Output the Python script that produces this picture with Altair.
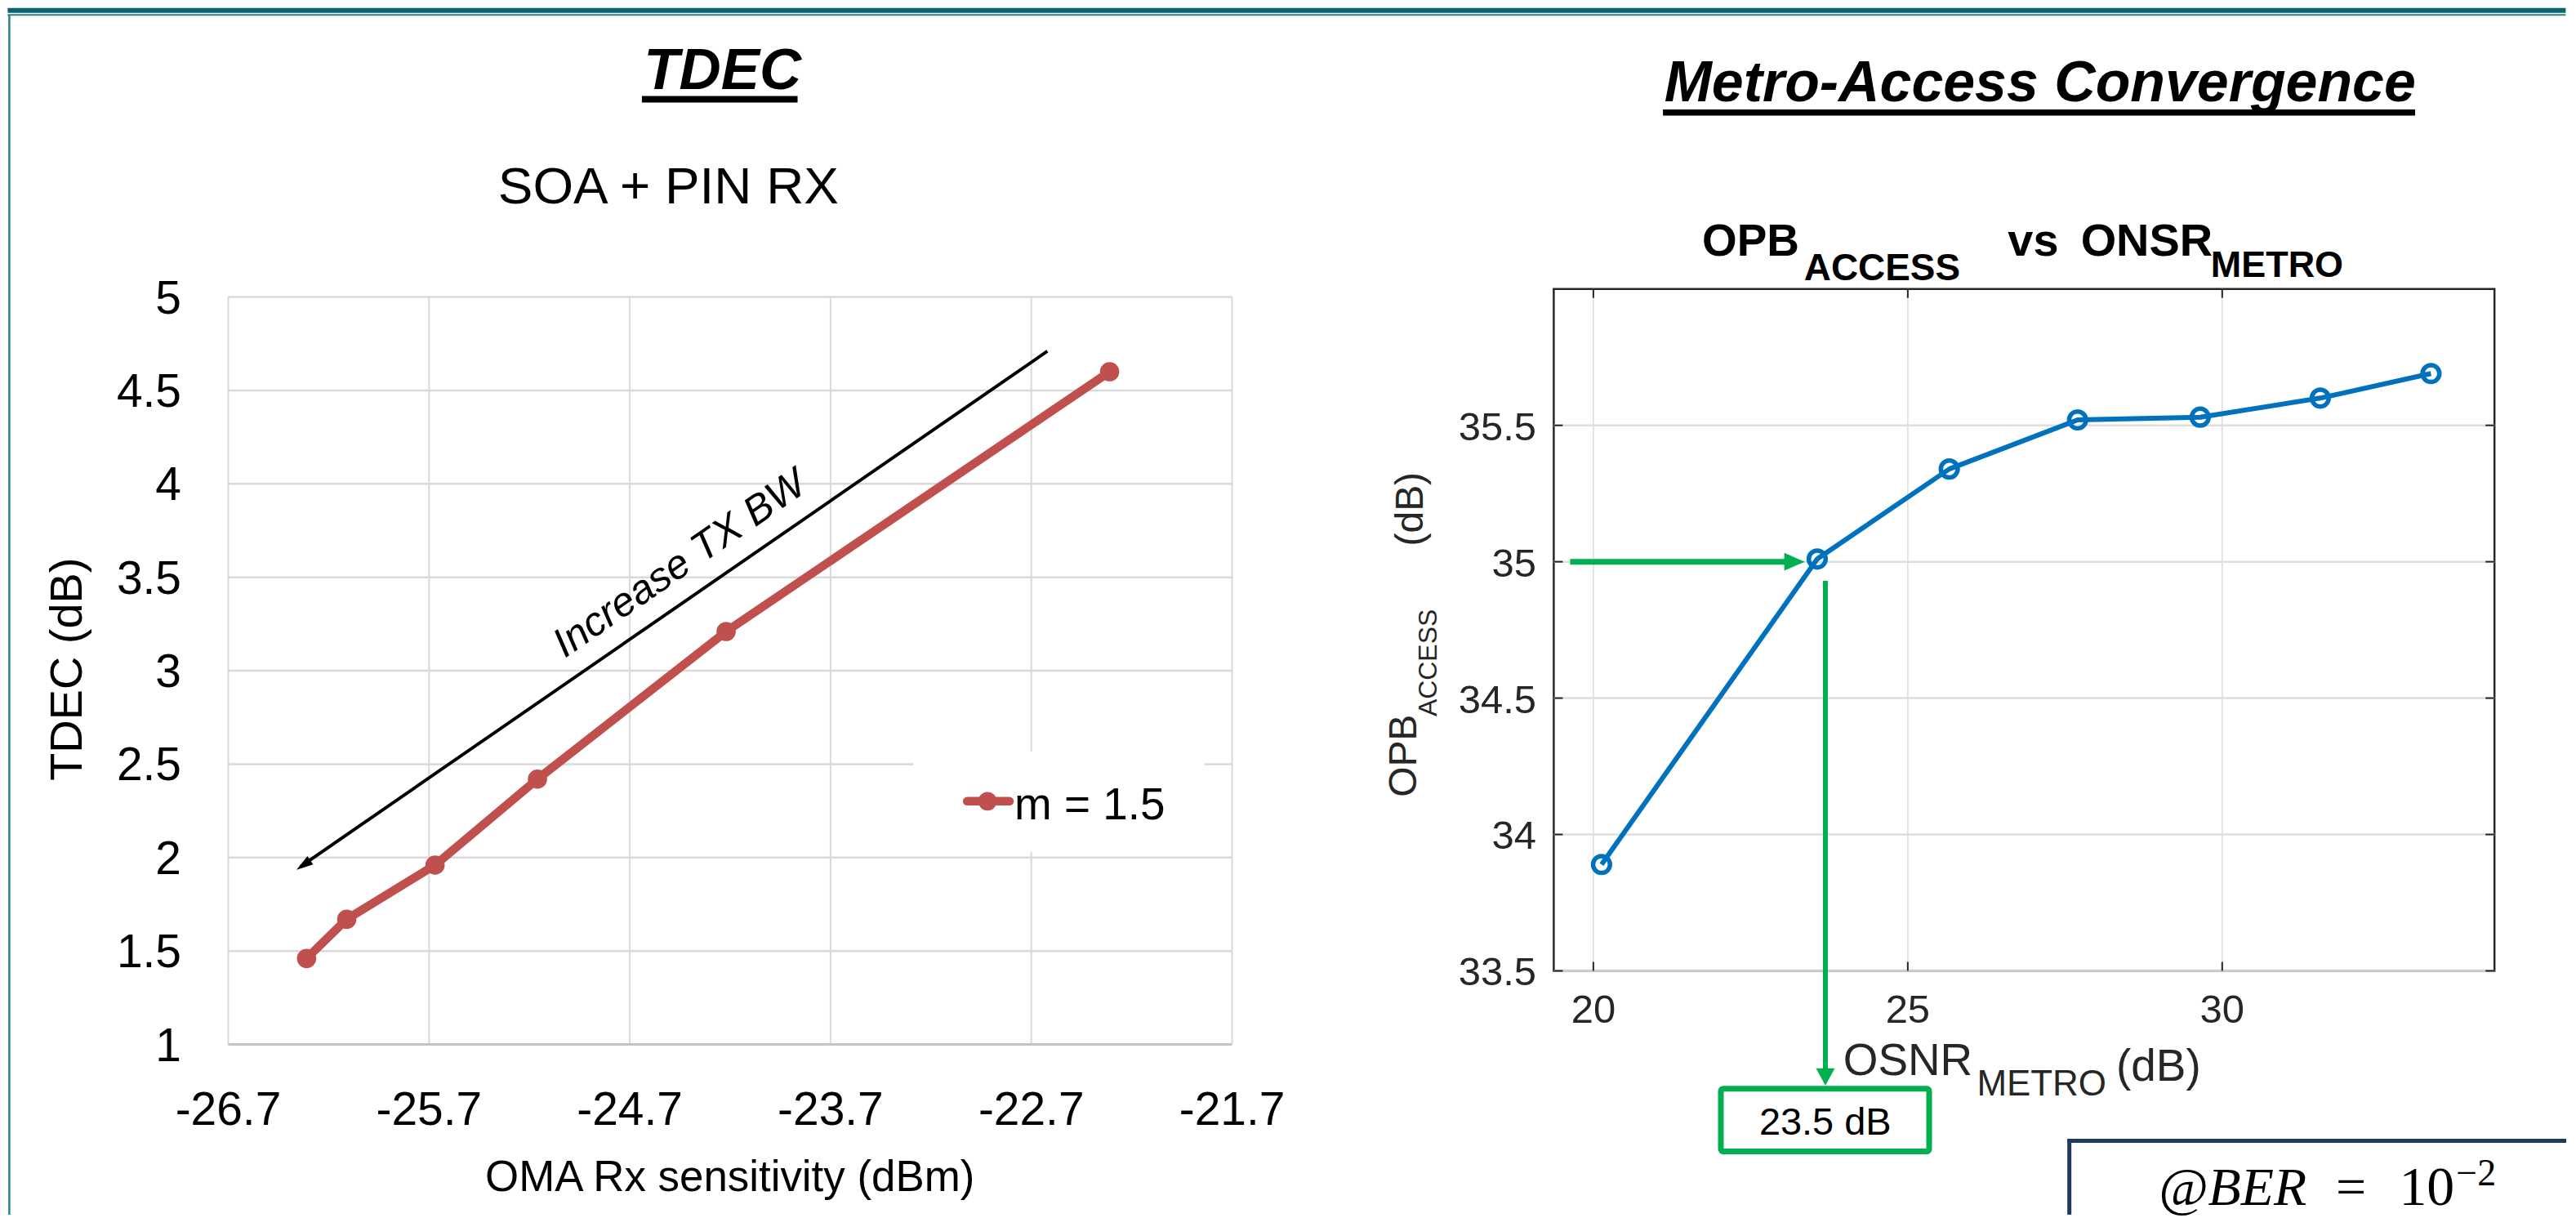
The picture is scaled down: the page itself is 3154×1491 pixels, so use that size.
import altair as alt
import pandas as pd

# ---------------- data: left panel (TDEC vs OMA Rx sensitivity) ----------------
OMA_RX_SENS = [-26.31, -26.11, -25.67, -25.16, -24.22, -22.31]
TDEC_DB = [1.46, 1.67, 1.96, 2.42, 3.21, 4.60]
LEGEND_LABEL = ["m = 1.5"]
LEFT_X_TICKS = [-26.7, -25.7, -24.7, -23.7, -22.7, -21.7]
LEFT_X_LABELS = ["-26.7", "-25.7", "-24.7", "-23.7", "-22.7", "-21.7"]
LEFT_Y_TICKS = [1, 1.5, 2, 2.5, 3, 3.5, 4, 4.5, 5]
LEFT_Y_LABELS = ["1", "1.5", "2", "2.5", "3", "3.5", "4", "4.5", "5"]
LEFT_X_DOMAIN = [-26.7, -21.7]
LEFT_Y_DOMAIN = [1, 5.0428]
TREND_X = [-22.62, -26.34]
TREND_Y = [4.71, 1.952]
TREND_TIP = [-26.36, 1.935]
TREND_LABEL = ["Increase TX BW"]
TREND_LABEL_AT = [-24.45, 3.57]

# ---------------- data: right panel (OPB_ACCESS vs OSNR_METRO) ----------------
OSNR_METRO = [20.13, 23.56, 25.66, 27.70, 29.65, 31.56, 33.32]
OPB_ACCESS = [33.89, 35.01, 35.34, 35.52, 35.53, 35.60, 35.69]
RIGHT_X_TICKS = [20, 25, 30]
RIGHT_X_LABELS = ["20", "25", "30"]
RIGHT_Y_TICKS = [33.5, 34, 34.5, 35, 35.5]
RIGHT_Y_LABELS = ["33.5", "34", "34.5", "35", "35.5"]
RIGHT_X_DOMAIN = [19.37, 34.33]
RIGHT_Y_DOMAIN = [33.5, 36.0]
H_ARROW_X = [19.63, 23.22]
H_ARROW_TIP = [23.36, 35.0]
V_ARROW_X = 23.69
V_ARROW_Y = [34.93, 33.11]
V_ARROW_TIP = [23.69, 33.08]
READ_LABEL = ["23.5 dB"]

# ---------------- texts ----------------
TITLE_LEFT = "TDEC"
SUBTITLE_LEFT = "SOA + PIN RX"
TITLE_RIGHT = "Metro-Access Convergence"
LEFT_X_TITLE = "OMA Rx sensitivity (dBm)"
LEFT_Y_TITLE = "TDEC (dB)"
PLOT_TITLE = ["OPB", "ACCESS", "vs", "ONSR", "METRO"]
R_X_TITLE = ["OSNR", "METRO", "(dB)"]
R_Y_TITLE = ["OPB", "ACCESS", "(dB)"]
BER_TEXT = ["@BER", "=", "10", "\u22122"]

# ---------------- styling ----------------
SANS = "Liberation Sans, Arial, Helvetica, sans-serif"
SERIF = "Liberation Serif, Cambria, Times New Roman, serif"
RED = "#C0504D"
BLUE = "#0072BD"
GREEN = "#00B050"
DARK = "#262626"
TEAL = "#0B6470"
TEAL2 = "#2A7F88"
NAVY = "#1F3A5F"
GRID_L = "#d9d9d9"
GRID_R = "#dedede"

LW, LH = 1231.4, 926.6
RW, RH = 1154.0, 836.3
LOX, LOY = 278.6, 352.7
ROX, ROY = 1904.0, 352.7

ONE = pd.DataFrame({"k": [0]})


def tx(text, x, y, ox, oy, size, font=SANS, color="#000000", weight="normal",
       style="normal", align="left", baseline="alphabetic", angle=0):
    props = dict(font=font, fontSize=size, color=color, fontWeight=weight,
                 fontStyle=style, align=align, baseline=baseline)
    if angle:
        props["angle"] = angle
    return alt.Chart(pd.DataFrame({"t": [text]})).mark_text(**props).encode(
        text="t:N", x=alt.value(x - ox), y=alt.value(y - oy))


def hrule(x1, x2, y, ox, oy, color, width):
    return alt.Chart(ONE).mark_rule(color=color, strokeWidth=width).encode(
        x=alt.value(x1 - ox), x2=alt.value(x2 - ox), y=alt.value(y - oy))


def vrule(x, y1, y2, ox, oy, color, width):
    return alt.Chart(ONE).mark_rule(color=color, strokeWidth=width).encode(
        x=alt.value(x - ox), y=alt.value(y1 - oy), y2=alt.value(y2 - oy))


def prect(x1, y1, x2, y2, ox, oy, fill, stroke="#ffffff", sw=0, radius=0):
    return alt.Chart(ONE).mark_rect(fill=fill, stroke=stroke, strokeWidth=sw,
                                    cornerRadius=radius, opacity=1).encode(
        x=alt.value(x1 - ox), x2=alt.value(x2 - ox),
        y=alt.value(y1 - oy), y2=alt.value(y2 - oy))


# ================= LEFT PANEL =================
xsL = alt.Scale(domain=LEFT_X_DOMAIN, nice=False, zero=False)
ysL = alt.Scale(domain=LEFT_Y_DOMAIN, nice=False, zero=False)


def XL(f):
    return alt.X(f, scale=xsL, axis=None)


def YL(f):
    return alt.Y(f, scale=ysL, axis=None)


dfL = pd.DataFrame({"x": OMA_RX_SENS, "y": TDEC_DB})

grid_v = alt.Chart(pd.DataFrame({"x": LEFT_X_TICKS, "y0": LEFT_Y_TICKS[0], "y1": LEFT_Y_TICKS[-1]})).mark_rule(
    color=GRID_L, strokeWidth=2).encode(x=XL("x:Q"), y=YL("y0:Q"), y2="y1:Q")
grid_h = alt.Chart(pd.DataFrame({"y": LEFT_Y_TICKS[1:], "x0": LEFT_X_TICKS[0], "x1": LEFT_X_TICKS[-1]})).mark_rule(
    color=GRID_L, strokeWidth=2.5).encode(y=YL("y:Q"), x=XL("x0:Q"), x2="x1:Q")
base_line = alt.Chart(pd.DataFrame({"y": LEFT_Y_TICKS[:1], "x0": LEFT_X_TICKS[0], "x1": LEFT_X_TICKS[-1]})).mark_rule(
    color="#c4c4c4", strokeWidth=3).encode(y=YL("y:Q"), x=XL("x0:Q"), x2="x1:Q")

xlab_L = alt.Chart(pd.DataFrame({"x": LEFT_X_TICKS, "t": LEFT_X_LABELS})).mark_text(
    font=SANS, fontSize=57, align="center", baseline="alphabetic", color="#000000").encode(
    x=XL("x:Q"), y=alt.value(1378 - LOY), text="t:N")
ylab_L = alt.Chart(pd.DataFrame({"y": LEFT_Y_TICKS, "t": LEFT_Y_LABELS})).mark_text(
    font=SANS, fontSize=57, align="right", baseline="middle", dy=3, color="#000000").encode(
    y=YL("y:Q"), x=alt.value(221 - LOX), text="t:N")
xtitle_L = tx(LEFT_X_TITLE, 894, 1459, LOX, LOY, 53, align="center")
ytitle_L = tx(LEFT_Y_TITLE, 99, 819, LOX, LOY, 56, align="center", angle=270)

legend_bg = prect(1119, 920, 1476, 1043, LOX, LOY, fill="#ffffff")

trend = alt.Chart(pd.DataFrame({"x": TREND_X, "y": TREND_Y, "o": [0, 1]})).mark_line(
    color="#000000", strokeWidth=4).encode(x=XL("x:Q"), y=YL("y:Q"), order="o:Q")
trend_head = alt.Chart(pd.DataFrame({"x": [TREND_TIP[0]], "y": [TREND_TIP[1]]})).mark_point(
    shape="M0,0L0.6,2L-0.6,2Z", size=420, filled=True, color="#000000", opacity=1,
    angle=235.4, strokeWidth=0).encode(x=XL("x:Q"), y=YL("y:Q"))
trend_text = alt.Chart(pd.DataFrame({"x": [TREND_LABEL_AT[0]], "y": [TREND_LABEL_AT[1]], "t": TREND_LABEL})).mark_text(
    font=SANS, fontSize=50, fontStyle="italic", angle=325.4, align="center",
    baseline="middle", color="#000000").encode(x=XL("x:Q"), y=YL("y:Q"), text="t:N")

line_L = alt.Chart(dfL).mark_line(color=RED, strokeWidth=10.5, strokeJoin="round", strokeCap="round").encode(
    x=XL("x:Q"), y=YL("y:Q"))
pts_L = alt.Chart(dfL).mark_circle(color=RED, size=560, opacity=1).encode(x=XL("x:Q"), y=YL("y:Q"))

leg_line = alt.Chart(ONE).mark_rule(color=RED, strokeWidth=10.5, strokeCap="round").encode(
    x=alt.value(1185 - LOX), x2=alt.value(1237 - LOX), y=alt.value(981 - LOY))
leg_dot = alt.Chart(ONE).mark_circle(color=RED, size=520, opacity=1).encode(
    x=alt.value(1210 - LOX), y=alt.value(981 - LOY))
leg_text = tx(LEGEND_LABEL[0], 1243, 1003.3, LOX, LOY, 55)

t_tdec = tx(TITLE_LEFT, 885, 107, LOX, LOY, 71, weight="bold", style="italic", align="center")
u_tdec = hrule(786, 977, 120, LOX, LOY, "#000000", 8)
t_soa = tx(SUBTITLE_LEFT, 818.5, 248, LOX, LOY, 64, align="center")

band = prect(8, 8, 3146, 14, LOX, LOY, fill=TEAL)
band_line = hrule(8, 3146, 16.5, LOX, LOY, TEAL2, 2)
left_border = vrule(10, 16.5, 1488, LOX, LOY, TEAL2, 2.5)

left = alt.layer(
    band, band_line, left_border,
    grid_v, grid_h, base_line, legend_bg,
    xlab_L, ylab_L, xtitle_L, ytitle_L,
    trend, trend_head, trend_text,
    line_L, pts_L,
    leg_line, leg_dot, leg_text,
    t_tdec, u_tdec, t_soa,
).properties(width=LW, height=LH)

# ================= RIGHT PANEL =================
xsR = alt.Scale(domain=RIGHT_X_DOMAIN, nice=False, zero=False)
ysR = alt.Scale(domain=RIGHT_Y_DOMAIN, nice=False, zero=False)


def XR(f):
    return alt.X(f, scale=xsR, axis=None)


def YR(f):
    return alt.Y(f, scale=ysR, axis=None)


dfR = pd.DataFrame({"x": OSNR_METRO, "y": OPB_ACCESS})

rgrid_v = alt.Chart(pd.DataFrame({"x": RIGHT_X_TICKS, "y0": RIGHT_Y_DOMAIN[0], "y1": RIGHT_Y_DOMAIN[1]})).mark_rule(
    color=GRID_R, strokeWidth=1.6).encode(x=XR("x:Q"), y=YR("y0:Q"), y2="y1:Q")
rgrid_h = alt.Chart(pd.DataFrame({"y": RIGHT_Y_TICKS, "x0": RIGHT_X_DOMAIN[0], "x1": RIGHT_X_DOMAIN[1]})).mark_rule(
    color=GRID_R, strokeWidth=2.5).encode(y=YR("y:Q"), x=XR("x0:Q"), x2="x1:Q")

xlab_R = alt.Chart(pd.DataFrame({"x": RIGHT_X_TICKS, "t": RIGHT_X_LABELS})).mark_text(
    font=SANS, fontSize=49, align="center", baseline="alphabetic", color=DARK).encode(
    x=XR("x:Q"), y=alt.value(1253 - ROY), text="t:N")
ylab_R = alt.Chart(pd.DataFrame({"y": RIGHT_Y_TICKS, "t": RIGHT_Y_LABELS})).mark_text(
    font=SANS, fontSize=49, align="right", baseline="middle", dy=3, color=DARK).encode(
    y=YR("y:Q"), x=alt.value(1882.5 - ROX), text="t:N")

line_R = alt.Chart(dfR).mark_line(color=BLUE, strokeWidth=6, strokeJoin="round").encode(
    x=XR("x:Q"), y=YR("y:Q"))
pts_R = alt.Chart(dfR).mark_point(color=BLUE, filled=False, size=430, strokeWidth=5.5, opacity=1).encode(
    x=XR("x:Q"), y=YR("y:Q"))

dfXT = pd.DataFrame({"x": RIGHT_X_TICKS})
dfYT = pd.DataFrame({"y": RIGHT_Y_TICKS})
tick_b = alt.Chart(dfXT).mark_rule(color=DARK, strokeWidth=2).encode(
    x=XR("x:Q"), y=alt.value(RH), y2=alt.value(RH - 11))
tick_t = alt.Chart(dfXT).mark_rule(color=DARK, strokeWidth=2).encode(
    x=XR("x:Q"), y=alt.value(0), y2=alt.value(11))
tick_l = alt.Chart(dfYT).mark_rule(color=DARK, strokeWidth=2).encode(
    y=YR("y:Q"), x=alt.value(0), x2=alt.value(11))
tick_r = alt.Chart(dfYT).mark_rule(color=DARK, strokeWidth=2).encode(
    y=YR("y:Q"), x=alt.value(RW), x2=alt.value(RW - 11))

h_arrow = alt.Chart(pd.DataFrame({"x": [H_ARROW_X[0]], "x2": [H_ARROW_X[1]], "y": [H_ARROW_TIP[1]]})).mark_rule(
    color=GREEN, strokeWidth=7).encode(x=XR("x:Q"), x2="x2:Q", y=YR("y:Q"))
h_head = alt.Chart(pd.DataFrame({"x": [H_ARROW_TIP[0]], "y": [H_ARROW_TIP[1]]})).mark_point(
    shape="M0,0L0.88,2L-0.88,2Z", size=625, filled=True, color=GREEN, opacity=1,
    angle=90, strokeWidth=0).encode(x=XR("x:Q"), y=YR("y:Q"))
v_arrow = alt.Chart(pd.DataFrame({"x": [V_ARROW_X], "y": [V_ARROW_Y[0]], "y2": [V_ARROW_Y[1]]})).mark_rule(
    color=GREEN, strokeWidth=6).encode(x=XR("x:Q"), y=YR("y:Q"), y2="y2:Q")
v_head = alt.Chart(pd.DataFrame({"x": [V_ARROW_TIP[0]], "y": [V_ARROW_TIP[1]]})).mark_point(
    shape="M0,0L1.1,2L-1.1,2Z", size=441, filled=True, color=GREEN, opacity=1,
    angle=180, strokeWidth=0).encode(x=XR("x:Q"), y=YR("y:Q"))

read_box = prect(2109, 1333.5, 2364.5, 1410.5, ROX, ROY, fill="#ffffff", stroke=GREEN, sw=7, radius=3)
read_text = tx(READ_LABEL[0], 2237, 1390, ROX, ROY, 47, align="center")

ber_top = hrule(2534, 3146, 1397.5, ROX, ROY, NAVY, 5)
ber_left = vrule(2536.5, 1395, 1488, ROX, ROY, NAVY, 5)
ber_1 = tx(BER_TEXT[0], 2646, 1476, ROX, ROY, 66, SERIF, style="italic")
ber_2 = tx(BER_TEXT[1], 2882, 1476, ROX, ROY, 66, SERIF, align="center")
ber_3 = tx(BER_TEXT[2], 2941, 1476, ROX, ROY, 68, SERIF)
ber_4 = tx(BER_TEXT[3], 3011, 1452, ROX, ROY, 46, SERIF)

t_metro = tx(TITLE_RIGHT, 2500.5, 122.7, ROX, ROY, 70, weight="bold", style="italic", align="center")
u_metro = hrule(2038, 2960.7, 136.3, ROX, ROY, "#000000", 7.5)

pt1 = tx(PLOT_TITLE[0], 2086, 311.7, ROX, ROY, 55, weight="bold")
pt2 = tx(PLOT_TITLE[1], 2211, 341.7, ROX, ROY, 46, weight="bold")
pt3 = tx(PLOT_TITLE[2], 2461, 311.7, ROX, ROY, 56, weight="bold")
pt4 = tx(PLOT_TITLE[3], 2550.5, 311.7, ROX, ROY, 56, weight="bold")
pt5 = tx(PLOT_TITLE[4], 2710, 338.3, ROX, ROY, 45, weight="bold")

xt1 = tx(R_X_TITLE[0], 2259, 1316.7, ROX, ROY, 55, color=DARK)
xt2 = tx(R_X_TITLE[1], 2423, 1341.7, ROX, ROY, 44, color=DARK)
xt3 = tx(R_X_TITLE[2], 2594, 1324, ROX, ROY, 55, color=DARK)

yt1 = tx(R_Y_TITLE[0], 1735, 976, ROX, ROY, 48, color=DARK, angle=270)
yt2 = tx(R_Y_TITLE[1], 1760, 877, ROX, ROY, 32, color=DARK, angle=270)
yt3 = tx(R_Y_TITLE[2], 1743, 668, ROX, ROY, 48, color=DARK, angle=270)

right = alt.layer(
    rgrid_v, rgrid_h,
    xlab_R, ylab_R,
    line_R, pts_R,
    tick_b, tick_t, tick_l, tick_r,
    h_arrow, h_head, v_arrow, v_head,
    read_box, read_text,
    ber_top, ber_left, ber_1, ber_2, ber_3, ber_4,
    t_metro, u_metro,
    pt1, pt2, pt3, pt4, pt5,
    xt1, xt2, xt3,
    yt1, yt2, yt3,
).properties(width=RW, height=RH,
             view=alt.ViewBackground(stroke=DARK, strokeWidth=2.5))

chart = alt.hconcat(left, right, spacing=394, bounds="flush").properties(
    padding=0, background="#ffffff"
).configure_view(strokeWidth=0)

chart.save("out.html", embed_options={"renderer": "svg", "actions": False})
